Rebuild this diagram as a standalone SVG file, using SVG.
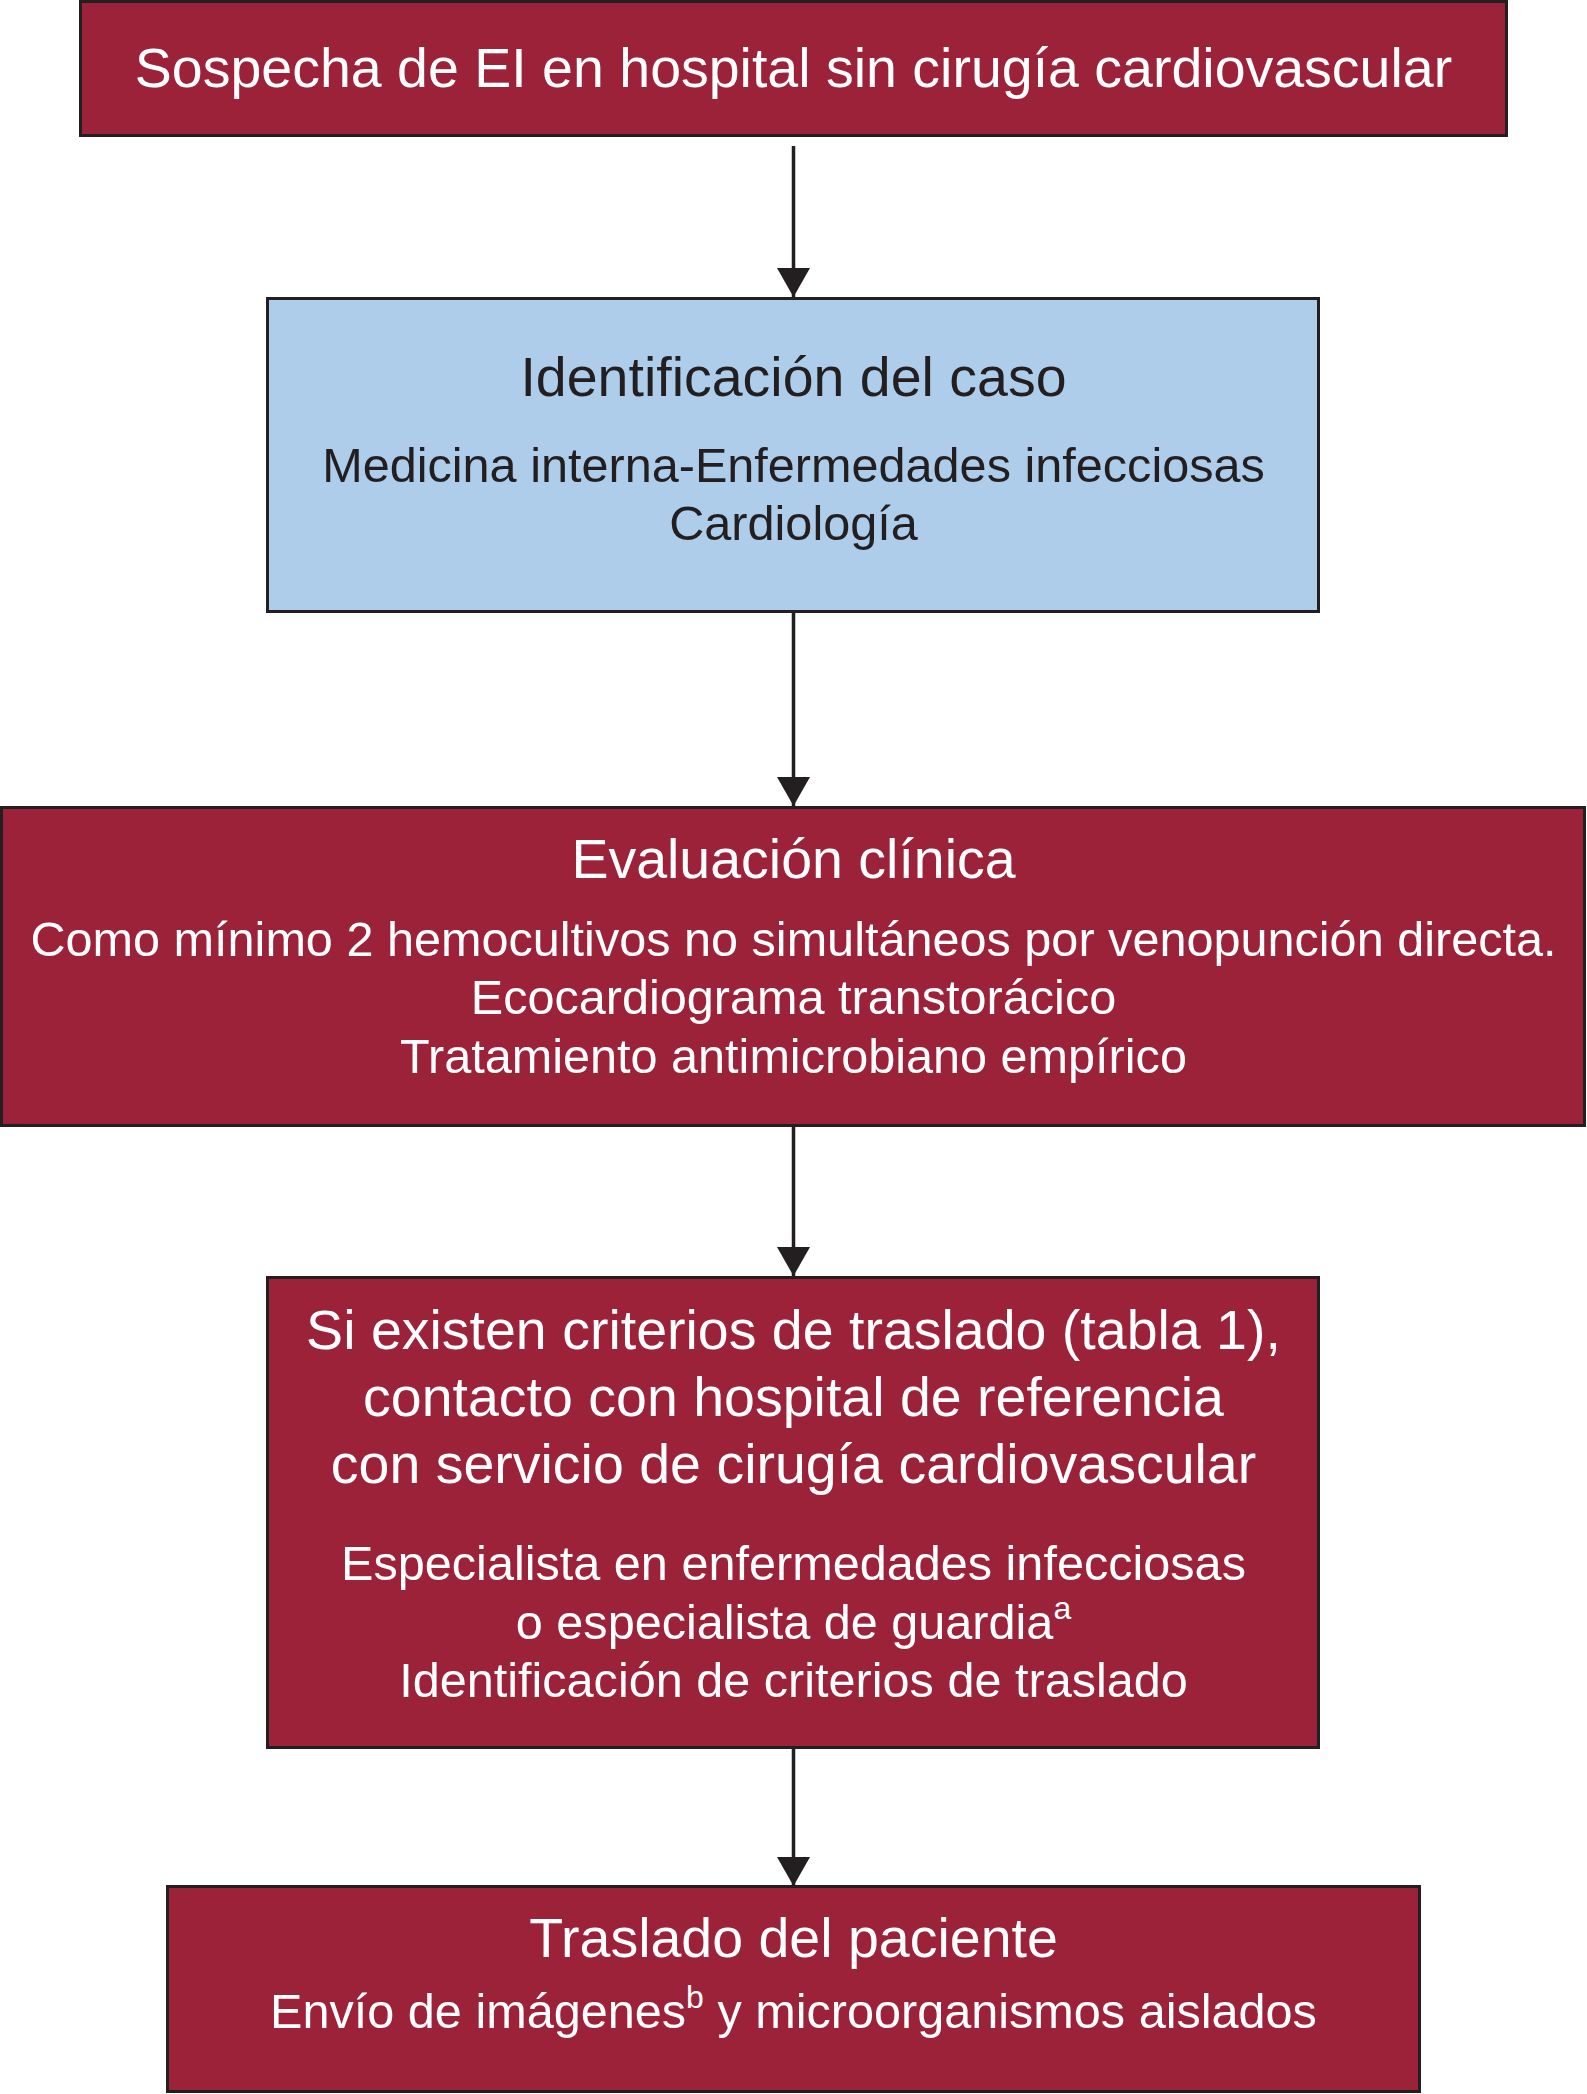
<svg xmlns="http://www.w3.org/2000/svg" width="1587" height="2094" viewBox="0 0 1587 2094">
<style>
.red{fill:#9c2239;stroke:#231f20;stroke-width:3}
.blue{fill:#aecdeb;stroke:#231f20;stroke-width:3}
.t{font-family:"Liberation Sans",Arial,Helvetica,sans-serif;text-anchor:middle}
.w{fill:#ffffff}
.k{fill:#231f20}
.big{font-size:55.5px}
.sm{font-size:48.6px}
.conn{stroke:#231f20;stroke-width:3.5;fill:none}
</style>
<defs>
<marker id="ah" markerUnits="userSpaceOnUse" markerWidth="29" markerHeight="33" refX="29" refY="16.5" orient="auto" viewBox="0 0 29 33">
<path d="M0,0 L29,16.5 L0,33 z" fill="#231f20"/>
</marker>
</defs>
<rect width="1587" height="2094" fill="#ffffff"/>
<g id="connectors">
<line class="conn" x1="793.5" y1="146" x2="793.5" y2="297" marker-end="url(#ah)"/>
<line class="conn" x1="793.5" y1="613" x2="793.5" y2="806" marker-end="url(#ah)"/>
<line class="conn" x1="793.5" y1="1127" x2="793.5" y2="1276" marker-end="url(#ah)"/>
<line class="conn" x1="793.5" y1="1749" x2="793.5" y2="1886" marker-end="url(#ah)"/>
</g>
<g id="n1">
<rect class="red" x="80.5" y="1.5" width="1426" height="134"/>
<text class="t w big" x="793.5" y="87">Sospecha de EI en hospital sin cirugía cardiovascular</text>
</g>
<g id="n2">
<rect class="blue" x="267.5" y="298.5" width="1051" height="313"/>
<text class="t k big" x="793.5" y="396">Identificación del caso</text>
<text class="t k sm" x="793.5" y="482">Medicina interna-Enfermedades infecciosas</text>
<text class="t k sm" x="793.5" y="540">Cardiología</text>
</g>
<g id="n3">
<rect class="red" x="1.5" y="807.5" width="1583" height="318"/>
<text class="t w big" x="793.5" y="878">Evaluación clínica</text>
<text class="t w sm" x="793.5" y="956">Como mínimo 2 hemocultivos no simultáneos por venopunción directa.</text>
<text class="t w sm" x="793.5" y="1014">Ecocardiograma transtorácico</text>
<text class="t w sm" x="793.5" y="1073">Tratamiento antimicrobiano empírico</text>
</g>
<g id="n4">
<rect class="red" x="267.5" y="1277.5" width="1051" height="470"/>
<text class="t w big" x="793.5" y="1349">Si existen criterios de traslado (tabla 1),</text>
<text class="t w big" x="793.5" y="1416">contacto con hospital de referencia</text>
<text class="t w big" x="793.5" y="1483">con servicio de cirugía cardiovascular</text>
<text class="t w sm" x="793.5" y="1580">Especialista en enfermedades infecciosas</text>
<text class="t w sm" x="793.5" y="1639">o especialista de guardia<tspan font-size="32" dy="-20">a</tspan></text>
<text class="t w sm" x="793.5" y="1697">Identificación de criterios de traslado</text>
</g>
<g id="n5">
<rect class="red" x="167.5" y="1886.5" width="1252" height="205"/>
<text class="t w big" x="793.5" y="1957">Traslado del paciente</text>
<text class="t w sm" x="793.5" y="2028">Envío de imágenes<tspan font-size="32" dy="-20">b</tspan><tspan dy="20"> y microorganismos aislados</tspan></text>
</g>
</svg>
